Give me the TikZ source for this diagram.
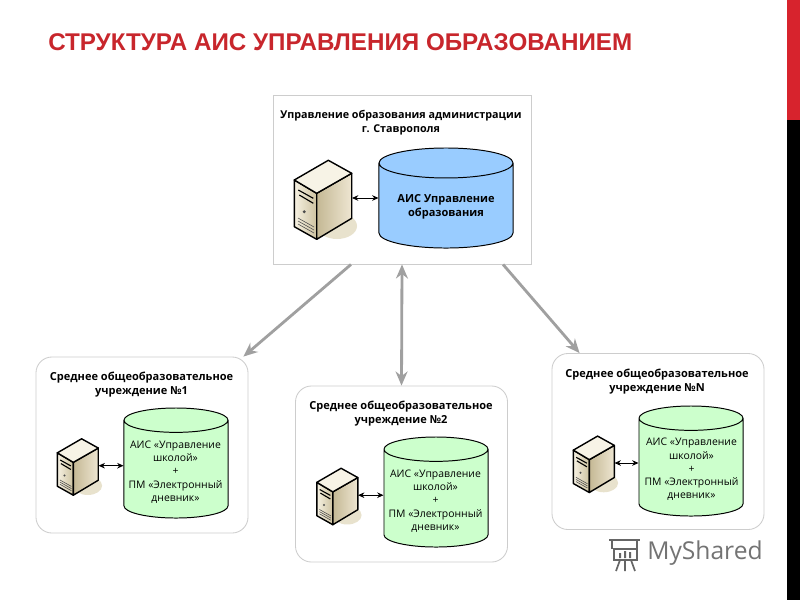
\documentclass[tikz,border=0pt]{standalone}
\usepackage{fontspec}
\setmainfont{Open Sans}
\newfontfamily\titlefont{Liberation Sans}
\usetikzlibrary{shapes.geometric,arrows.meta}

\definecolor{titlered}{RGB}{200,38,44}
\definecolor{barred}{RGB}{215,35,45}
\definecolor{dbblue}{RGB}{153,204,255}
\definecolor{dbgreen}{RGB}{204,255,204}
\definecolor{boxline}{RGB}{205,205,205}
\definecolor{bigarrow}{RGB}{160,160,160}
\definecolor{servershadow}{RGB}{232,226,205}
\definecolor{srvtop}{RGB}{247,243,230}
\definecolor{srvfronta}{RGB}{246,241,226}
\definecolor{srvfrontb}{RGB}{205,194,160}
\definecolor{srvsidea}{RGB}{196,184,148}
\definecolor{srvsideb}{RGB}{238,230,210}

\tikzset{
  pagebox/.style={draw=boxline,fill=white,line width=0.6pt,align=center},
  officebox/.style={pagebox,minimum width=6.45cm,minimum height=4.225cm},
  schoolbox/.style={pagebox,rounded corners=0.4cm,minimum width=5.3cm,minimum height=4.4cm},
  boxtitle/.style={align=center,font=\fontsize{7.65}{9.8}\selectfont\bfseries},
  schooltitle/.style={align=center,font=\fontsize{7.85}{10}\selectfont\bfseries},
  dbase/.style={draw=black,line width=0.7pt,shape=cylinder,shape border rotate=90,anchor=shape center},
  bigdb/.style={dbase,fill=dbblue,aspect=3.2,minimum width=3.35cm,minimum height=2.5cm},
  smalldb/.style={dbase,fill=dbgreen,aspect=2.6,minimum width=2.6cm,minimum height=2.75cm},
  bigdbtext/.style={align=center,font=\fontsize{7.85}{10}\selectfont\bfseries},
  smalldbtext/.style={align=center,font=\fontsize{7.4}{9.45}\selectfont},
  bigsrv/.style={inner sep=0pt,minimum width=1.435cm,minimum height=0.1cm},
  smallsrv/.style={inner sep=0pt,minimum width=1.025cm,minimum height=0.1cm},
  link/.style={black,line width=0.6pt,{Stealth[length=4.5pt,width=4pt]}-{Stealth[length=4.5pt,width=4pt]}},
  uplink/.style={bigarrow,line width=2pt,>={Stealth[length=10pt,width=8.5pt]}},
  server/.pic={
    \fill[servershadow] (14,28) ellipse (20 and 13);
    \draw[black,line width=1pt,line join=round,left color=srvfronta,right color=srvfrontb]
      (-28.7,-18) -- (-6.3,-4.7) -- (-6.3,41.3) -- (-28.7,28.7) -- cycle;
    \draw[black,line width=1pt,line join=round,left color=srvsidea,right color=srvsideb]
      (-6.3,-4.7) -- (28.7,-24.7) -- (28.7,20.3) -- (-6.3,41.3) -- cycle;
    \draw[black,line width=1pt,line join=round,fill=srvtop]
      (5.3,-37.7) -- (28.7,-24.7) -- (-6.3,-4.7) -- (-28.7,-18) -- cycle;
    \draw[black,line width=0.8pt] (-24.7,-8) -- (-9.7,0.3) (-23.7,-3) -- (-9.7,5.3);
    \fill[black!70] (-18.7,13.7) circle (1.6);
    \draw[black!70,line width=0.4pt] (-25,20) -- (-9,29) (-25,23) -- (-9,32) (-25,26) -- (-9,35);
  }
}

\begin{document}
\begin{tikzpicture}[x=0.025cm,y=-0.025cm]
\useasboundingbox (0,0) rectangle (800,600);
\fill[white] (0,0) rectangle (800,600);
% bar on the right
\fill[barred] (787,0) rectangle (800,120);
\fill[black] (787,120) rectangle (800,600);

\node[anchor=west,inner sep=0pt,text=titlered,font=\titlefont\fontsize{17.2}{19}\selectfont\bfseries] (title) at (48,42)
  {СТРУКТУРА АИС УПРАВЛЕНИЯ ОБРАЗОВАНИЕМ};

% boxes
\node[officebox] (boxT) at (402,179.5) {};
\node[schoolbox] (box1) at (142,445) {};
\node[schoolbox] (box2) at (401.5,474) {};
\node[schoolbox] (boxN) at (658,441.5) {};

\node[boxtitle] (capT) at (401,122.5) {Управление образования администрации\\г. Ставрополя};
\node[schooltitle] (cap1) at (141.5,385) {Среднее общеобразовательное\\учреждение №1};
\node[schooltitle] (cap2) at (401,414) {Среднее общеобразовательное\\учреждение №2};
\node[schooltitle] (capN) at (657,382) {Среднее общеобразовательное\\учреждение №N};

% databases
\node[bigdb] (dbT) at (446,198) {};
\node[smalldb] (db1) at (176,463) {};
\node[smalldb] (db2) at (436,492) {};
\node[smalldb] (dbN) at (691,461) {};

\node[bigdbtext] (txtT) at (446,207) {АИС Управление\\образования};
\node[smalldbtext] (txt1) at (175.5,472) {АИС «Управление\\школой»\\+\\ПМ «Электронный\\дневник»};
\node[smalldbtext] (txt2) at (435.5,501) {АИС «Управление\\школой»\\+\\ПМ «Электронный\\дневник»};
\node[smalldbtext] (txtN) at (691.5,469.5) {АИС «Управление\\школой»\\+\\ПМ «Электронный\\дневник»};

% servers
\node[bigsrv] (srvT) at (323,198) {};
\node[smallsrv] (srv1) at (77.8,465.7) {};
\node[smallsrv] (srv2) at (337.3,495.2) {};
\node[smallsrv] (srvN) at (593.8,463) {};
\pic at (srvT) {server};
\pic[scale=0.714] at (srv1) {server};
\pic[scale=0.714] at (srv2) {server};
\pic[scale=0.714] at (srvN) {server};

\draw[link] (srvT.east) -- (srvT.east -| dbT.west);
\draw[link] (srv1.east) -- (srv1.east -| db1.west);
\draw[link] (srv2.east) -- (srv2.east -| db2.west);
\draw[link] (srvN.east) -- (srvN.east -| dbN.west);

% links between the boxes
\draw[uplink,->] ([xshift=-1.275cm]boxT.south) -- ([xshift=-0.125cm]box1.north east);
\draw[uplink,<->] (boxT.south) -- (box2.north);
\draw[uplink,->] ([xshift=2.525cm]boxT.south) -- ([xshift=0.7cm]boxN.north west);

% watermark
\node[anchor=west,inner sep=0pt,text=black!55,font=\fontsize{17.5}{20}\selectfont] (mark) at (647,553) {MyShared};
\draw[black!60,line width=1.2pt] (609,540) -- (640,540) (612,540) -- (612,549) (637,540) -- (637,560) -- (614,560) -- (614,549) -- (637,549);
\fill[black!60] (619,553) rectangle (621,558) (624,551) rectangle (626,558) (629,552) rectangle (631,558);
\draw[black!60,line width=1.2pt] (620,560) -- (616,571) (625,560) -- (625,571) (631,560) -- (635,571);
\end{tikzpicture}
\end{document}
